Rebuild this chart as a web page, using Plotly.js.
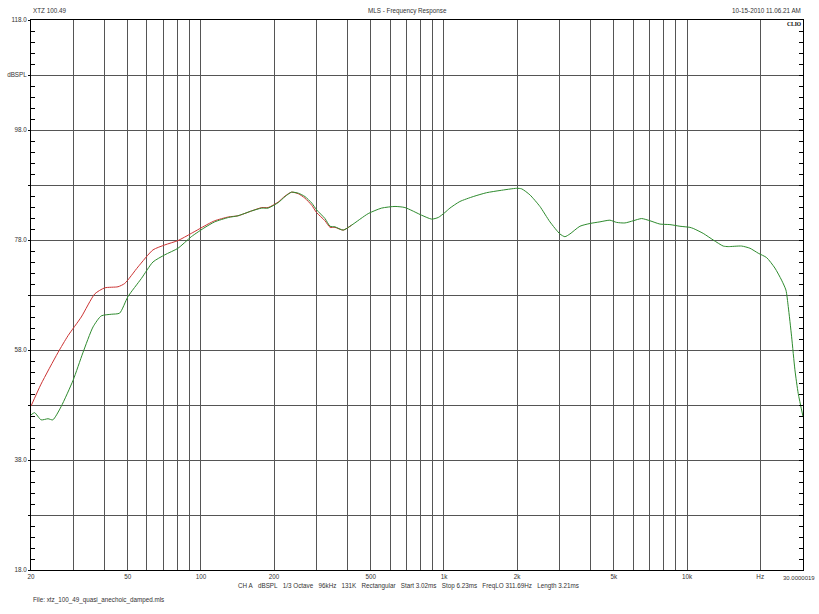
<!DOCTYPE html>
<html>
<head>
<meta charset="utf-8">
<script src="https://cdn.plot.ly/plotly-3.0.1.min.js"></script>
<style>html,body{margin:0;padding:0;background:#fff;}#chart{width:819px;height:614px;}</style>
</head>
<body>
<div id="chart"></div>
<script>
// Frequencies (Hz) and levels (dBSPL)
const greenFreq = [20, 20.7, 22.0, 23.5, 24.6, 26.6, 29.8, 32.7, 36.0, 38.9, 42.8, 46.3, 50.1, 56.9, 63.5, 71.0, 80.5, 91.3, 104, 114, 130, 142, 162, 178, 189, 208, 222, 236, 252, 268, 286, 299, 324, 340, 356, 385, 417, 488, 554, 629, 691, 810, 890, 948, 1009, 1058, 1163, 1320, 1498, 1700, 1990, 2088, 2258, 2482, 2729, 3000, 3145, 3298, 3626, 3986, 4382, 4816, 5133, 5552, 6007, 6505, 7038, 7735, 8504, 9349, 10278, 10606, 11659, 12818, 14090, 14773, 16768, 18148, 19626, 21250, 22991, 24492, 25521, 26086, 26937, 27789, 28670, 30000];
const greenDb = [46.2, 46.6, 45.3, 45.5, 45.3, 47.7, 52.5, 57.5, 62.2, 64.2, 64.5, 64.7, 67.7, 71.0, 74.0, 75.3, 76.5, 78.6, 80.3, 81.3, 82.1, 82.4, 83.3, 83.8, 83.8, 84.8, 85.9, 86.7, 86.5, 85.9, 84.7, 83.5, 81.9, 80.5, 80.4, 79.8, 80.7, 82.8, 83.8, 84.1, 83.9, 82.5, 81.8, 82.1, 83.0, 83.8, 85.0, 85.9, 86.6, 87.0, 87.4, 87.3, 86.2, 84.1, 81.3, 79.1, 78.6, 79.1, 80.5, 81.0, 81.3, 81.6, 81.2, 81.1, 81.5, 81.9, 81.5, 80.9, 80.8, 80.5, 80.3, 80.1, 79.2, 78.0, 76.9, 76.8, 76.9, 76.5, 75.6, 74.8, 72.9, 70.7, 68.9, 65.9, 60.4, 54.4, 50.1, 45.9];

const redFreq = [20, 22.0, 25.8, 28.4, 32.2, 36.6, 40.2, 45.6, 48.6, 55.1, 63.5, 71.0, 80.5, 91.3, 107, 114, 130, 142, 162, 178, 189, 208, 222, 236, 252, 268, 286, 299, 324, 340, 356, 385, 417];
const redDb = [47.8, 51.8, 57.5, 60.6, 64.0, 68.2, 69.3, 69.5, 70.1, 73.1, 76.2, 77.1, 77.9, 79.2, 80.9, 81.5, 82.2, 82.4, 83.3, 83.9, 83.9, 84.9, 86.0, 86.7, 86.4, 85.6, 84.3, 83.0, 81.5, 80.3, 80.3, 79.8, 80.7];

// Axis ticks
const xTickVals = [20, 30, 40, 50, 60, 70, 80, 90, 100, 200, 300, 400, 500, 600, 700, 800, 900, 1000, 2000, 3000, 4000, 5000, 6000, 7000, 8000, 9000, 10000, 20000, 30000];
const xTickText = ['20', '', '', '50', '', '', '', '', '100', '200', '', '', '500', '', '', '', '', '1k', '2k', '', '', '5k', '', '', '', '', '10k', 'Hz', ''];
const xEndLabel = '30.0000019';
const yTickVals = [18, 28, 38, 48, 58, 68, 78, 88, 98, 108, 118];
const yTickText = ['18.0', '', '38.0', '', '58.0', '', '78.0', '', '98.0', 'dBSPL', '118.0'];
const yMinorVals = [];
for (let v = 20; v < 118; v += 2) { if ((v - 18) % 10 !== 0) yMinorVals.push(v); }

const FONT = 'Liberation Sans, Arial, sans-serif';
const TXT = '#333';
const FS = 6.3;

const traces = [
  {x: redFreq, y: redDb, type: 'scatter', mode: 'lines', line: {color: '#cc3333', width: 1, shape: 'spline', smoothing: 0.6}, hoverinfo: 'skip', showlegend: false},
  {x: greenFreq, y: greenDb, type: 'scatter', mode: 'lines', line: {color: '#2e8b2e', width: 1, shape: 'spline', smoothing: 0.6}, hoverinfo: 'skip', showlegend: false},
  {x: [], y: [], yaxis: 'y2', type: 'scatter', mode: 'lines', hoverinfo: 'skip', showlegend: false}
];

const layout = {
  width: 819, height: 614,
  margin: {l: 31, r: 16, t: 20, b: 44, pad: 0},
  paper_bgcolor: '#fff', plot_bgcolor: '#fff',
  showlegend: false,
  font: {family: FONT, size: FS, color: TXT},
  xaxis: {
    type: 'log', range: [Math.log10(20), Math.log10(30000)],
    tickmode: 'array', tickvals: xTickVals, ticktext: xTickText,
    ticks: '', showgrid: true, gridcolor: '#555', gridwidth: 1,
    showline: true, linecolor: '#000', linewidth: 1, mirror: true,
    zeroline: false, automargin: false, tickangle: 0,
    tickfont: {family: FONT, size: FS, color: TXT}
  },
  yaxis: {
    range: [18, 118], tickmode: 'array', tickvals: yTickVals, ticktext: yTickText,
    ticks: 'outside', ticklen: 2, tickcolor: '#000',
    showgrid: true, gridcolor: '#555', gridwidth: 1,
    showline: true, linecolor: '#000', linewidth: 1, mirror: true,
    zeroline: false, automargin: false,
    tickfont: {family: FONT, size: FS, color: TXT},
    minor: {tickmode: 'array', tickvals: yMinorVals, ticks: 'inside', ticklen: 4, tickcolor: '#000', showgrid: false}
  },
  yaxis2: {
    overlaying: 'y', side: 'right', anchor: 'x', range: [18, 118],
    tickmode: 'array', tickvals: yMinorVals.concat(yTickVals), ticktext: [],
    showticklabels: false, ticks: 'inside', ticklen: 4, tickcolor: '#000',
    showgrid: false, zeroline: false, showline: false
  },
  annotations: [
    {xref: 'paper', yref: 'paper', x: 0, y: 1.0164, xanchor: 'left', yanchor: 'middle', text: 'XTZ 100.49', showarrow: false, font: {family: FONT, size: FS, color: TXT}},
    {xref: 'paper', yref: 'paper', x: 0.4883, y: 1.0164, xanchor: 'center', yanchor: 'middle', text: 'MLS - Frequency Response', showarrow: false, font: {family: FONT, size: FS, color: TXT}},
    {xref: 'paper', yref: 'paper', x: 1, y: 1.0164, xanchor: 'right', yanchor: 'middle', text: '10-15-2010 11.06.21 AM', showarrow: false, font: {family: FONT, size: FS, color: TXT}},
    {xref: 'paper', yref: 'paper', x: 1.001, y: 0.9927, xanchor: 'right', yanchor: 'middle', text: '<b>CLIO</b>', showarrow: false, font: {family: 'Liberation Serif, Times New Roman, serif', size: 5.5, color: '#000'}},
    {xref: 'paper', yref: 'paper', x: 1.0175, y: -0.0145, xanchor: 'right', yanchor: 'middle', text: xEndLabel, showarrow: false, font: {family: FONT, size: 6, color: TXT}},
    {xref: 'paper', yref: 'paper', x: 0.2655, y: -0.029, xanchor: 'left', yanchor: 'middle', text: 'CH A\u00a0\u00a0\u00a0dBSPL\u00a0\u00a0\u00a01/3 Octave\u00a0\u00a0\u00a096kHz\u00a0\u00a0\u00a0131K\u00a0\u00a0\u00a0Rectangular\u00a0\u00a0\u00a0Start 3.02ms\u00a0\u00a0\u00a0Stop 6.23ms\u00a0\u00a0\u00a0FreqLO 311.69Hz\u00a0\u00a0\u00a0Length 3.21ms', showarrow: false, font: {family: FONT, size: FS, color: TXT}},
    {xref: 'paper', yref: 'paper', x: 0, y: -0.0545, xanchor: 'left', yanchor: 'middle', text: 'File: xtz_100_49_quasi_anechoic_damped.mls', showarrow: false, font: {family: FONT, size: FS, color: TXT}}
  ]
};

Plotly.newPlot('chart', traces, layout, {staticPlot: true, displayModeBar: false});
</script>
</body>
</html>
